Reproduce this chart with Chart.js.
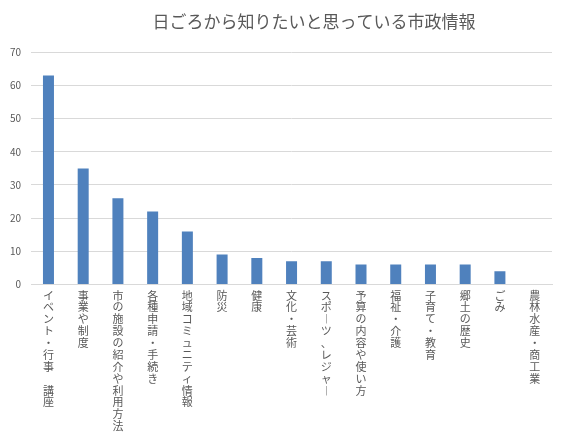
<!DOCTYPE html>
<html>
<head>
<meta charset="utf-8">
<script src="https://cdn.jsdelivr.net/npm/chart.js@4"></script>
<style>
  html, body { margin: 0; padding: 0; background: #fff; }
  #wrap { width: 586px; height: 439px; }
</style>
</head>
<body>
<div id="wrap"><canvas id="chart" width="586" height="439"></canvas></div>
<script>
// categories and values
const categories = [
    'イベント・行事 講座', '事業や制度', '市の施設の紹介や利用方法', '各種申請・手続き',
    '地域コミュニティ情報', '防災', '健康', '文化・芸術', 'スポーツ、レジャー',
    '予算の内容や使い方', '福祉・介護', '子育て・教育', '郷土の歴史', 'ごみ', '農林水産・商工業'
];
const values = [63, 35, 26, 22, 16, 9, 8, 7, 7, 6, 6, 6, 6, 4, 0];
const yTicks = [0, 10, 20, 30, 40, 50, 60, 70];
const title = '日ごろから知りたいと思っている市政情報';

/* stack characters vertically, long dash drawn upright */
function verticalLabel(s) {
    return Array.from(s).map(c => c === 'ー' ? '︱' : c);
}

const FONT = '"Noto Sans CJK JP", "Noto Sans", sans-serif';

// title sits a bit right of centre in the original
const titleShift = {
    id: 'titleShift',
    afterLayout(chart) {
        const t = chart.titleBlock;
        if (t) { t.left += 38; t.right += 38; }
    }
};

new Chart(document.getElementById('chart').getContext('2d'), {
    type: 'bar',
    data: {
        labels: categories.map(verticalLabel),
        datasets: [{
            data: values,
            backgroundColor: '#4f81bd',
            barThickness: 11,
            inflateAmount: 0
        }]
    },
    options: {
        responsive: false,
        animation: false,
        layout: { padding: { left: 0, right: 34, top: 0, bottom: 2 } },
        plugins: {
            legend: { display: false },
            tooltip: { enabled: false },
            title: {
                display: true,
                text: title,
                color: '#595959',
                font: { family: FONT, size: 17, weight: 'normal' },
                padding: { top: 11, bottom: 21 }
            }
        },
        scales: {
            x: {
                grid: { display: false, drawTicks: false },
                border: { color: '#d9d9d9' },
                ticks: {
                    color: '#595959',
                    font: { family: FONT, size: 11, lineHeight: 1.08 },
                    maxRotation: 0,
                    minRotation: 0,
                    autoSkip: false,
                    padding: 5
                }
            },
            y: {
                min: 0,
                max: 70,
                afterBuildTicks: axis => { axis.ticks = yTicks.map(v => ({ value: v })); },
                grid: { color: '#d9d9d9', drawTicks: false },
                border: { display: false },
                ticks: {
                    color: '#595959',
                    font: { family: FONT, size: 10 },
                    padding: 10
                }
            }
        }
    },
    plugins: [titleShift]
});
</script>
</body>
</html>
